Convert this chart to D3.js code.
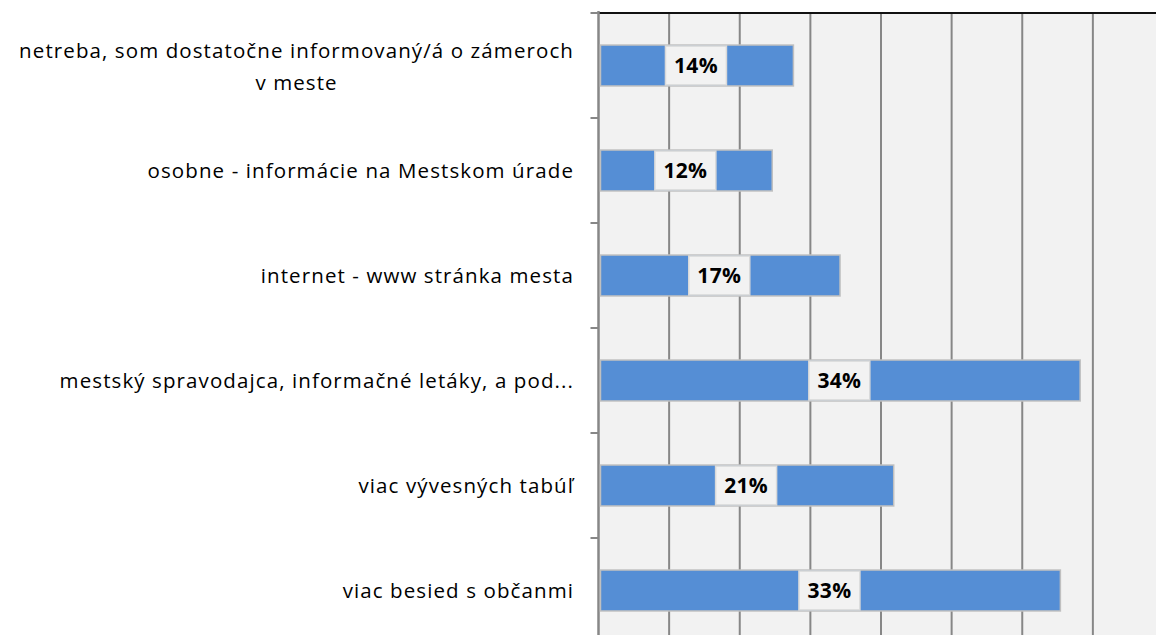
<!DOCTYPE html>
<html>
<head>
<meta charset="utf-8">
<script src="https://cdn.jsdelivr.net/npm/d3@7"></script>
<style>
  body { margin: 0; background: #fff; }
  svg { display: block; font-family: "Open Sans", "Noto Sans", sans-serif; }
</style>
</head>
<body>
<div class="canvas"></div>
<script>
// data
const categories = [
    'netreba, som dostatočne informovaný/á o zámeroch|v meste',
    'osobne - informácie na Mestskom úrade',
    'internet - www stránka mesta',
    'mestský spravodajca, informačné letáky, a pod...',
    'viac vývesných tabúľ',
    'viac besied s občanmi'
]
const values = [13.8, 12.3, 17.1, 34.1, 20.9, 32.7]
const labels = ['14%', '12%', '17%', '34%', '21%', '33%']
const gridTicks = [5, 10, 15, 20, 25, 30, 35, 40]

const width = 1156
const height = 635

const svg = d3.select('.canvas').append('svg')
    .attr('width', width)
    .attr('height', height)

const x = d3.scaleLinear()
    .domain([0, 40])
    .range([598.5, 598.5 + 565])

const y = d3.scaleBand()
    .domain(categories)
    .range([13, 643])
    .paddingInner(0.61)
    .paddingOuter(0.305)

const step = y.step()

// plot background
svg.append('rect')
    .attr('x', x(0))
    .attr('y', 13)
    .attr('width', width - x(0))
    .attr('height', height - 13)
    .attr('fill', '#f2f2f2')

// vertical gridlines
svg.selectAll('.grid')
    .data(gridTicks)
    .enter().append('line')
    .attr('x1', d => x(d))
    .attr('x2', d => x(d))
    .attr('y1', 13)
    .attr('y2', height)
    .attr('stroke', '#878787')
    .attr('stroke-width', 2)

// top border line
svg.append('line')
    .attr('x1', x(0))
    .attr('x2', width)
    .attr('y1', 13)
    .attr('y2', 13)
    .attr('stroke', '#111')
    .attr('stroke-width', 2)

// category axis with ticks on band boundaries
const bounds = d3.range(categories.length + 1).map(i => 13 + i * step)
svg.selectAll('.tick')
    .data(bounds)
    .enter().append('line')
    .attr('x1', x(0) - 8)
    .attr('x2', x(0))
    .attr('y1', d => d)
    .attr('y2', d => d)
    .attr('stroke', '#878787')
    .attr('stroke-width', 2)

svg.append('line')
    .attr('x1', x(0))
    .attr('x2', x(0))
    .attr('y1', 11)
    .attr('y2', height)
    .attr('stroke', '#878787')
    .attr('stroke-width', 2.5)

// bars
svg.selectAll('.bar')
    .data(values)
    .enter().append('rect')
    .attr('x', x(0) + 2)
    .attr('y', (d, i) => y(categories[i]))
    .attr('width', d => x(d) - x(0) - 2)
    .attr('height', y.bandwidth())
    .attr('fill', '#558ed5')
    .attr('stroke', '#c0c0c0')
    .attr('stroke-width', 1.5)

// value labels in boxes
const boxW = 61
const lab = svg.selectAll('.lab')
    .data(values)
    .enter().append('g')
    .attr('transform', (d, i) => `translate(${(x(0) + x(d)) / 2}, ${y(categories[i]) + y.bandwidth() / 2})`)

lab.append('rect')
    .attr('x', -boxW / 2)
    .attr('y', -y.bandwidth() / 2 + 1)
    .attr('width', boxW)
    .attr('height', y.bandwidth() - 2)
    .attr('fill', '#f2f2f2')
    .attr('stroke', '#d9d9d9')
    .attr('stroke-width', 1.5)

lab.append('text')
    .attr('text-anchor', 'middle')
    .attr('dy', '0.38em')
    .style('font-weight', 700)
    .style('font-size', '21px')
    .style('letter-spacing', '0.3px')
    .attr('fill', '#000')
    .text((d, i) => labels[i])

// category labels, right aligned
const labelX = 574
const cat = svg.selectAll('.cat')
    .data(categories)
    .enter().append('text')
    .attr('x', labelX)
    .attr('y', d => y(d) + y.bandwidth() / 2)
    .attr('text-anchor', 'end')
    .style('font-size', '20.5px')
    .style('letter-spacing', '1.1px')
    .attr('fill', '#000')

cat.each(function (d) {
    const lines = d.split('|')
    const t = d3.select(this)
    lines.forEach((line, j) => {
        t.append('tspan')
            .attr('x', labelX)
            .attr('dy', j === 0 ? (7.5 - (lines.length - 1) * 15) : 32)
            .text(line)
    })
})

// second line of the wrapped label is centred under the first
cat.filter(d => d.includes('|')).each(function () {
    const spans = d3.select(this).selectAll('tspan')
    const w = spans.nodes()[0].getComputedTextLength()
    spans.filter((d, j) => j > 0)
        .attr('x', labelX - w / 2)
        .attr('text-anchor', 'middle')
})
</script>
</body>
</html>
